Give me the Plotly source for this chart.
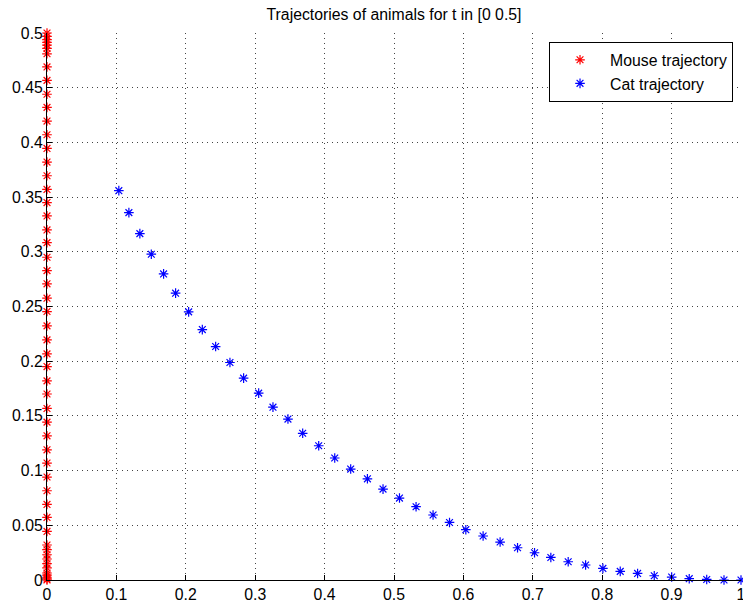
import plotly.graph_objects as go

# Mouse trajectory (x stays at 0)
mouse_y = [0.5, 0.497, 0.494, 0.4915, 0.489, 0.486, 0.481, 0.469, 0.4567, 0.444,
           0.432, 0.4195, 0.407, 0.3945, 0.382, 0.3695, 0.357, 0.345, 0.3328, 0.32,
           0.3084, 0.295, 0.2828, 0.2707, 0.2576, 0.2454, 0.2323, 0.2195, 0.2067,
           0.1951, 0.182, 0.17, 0.1568, 0.1443, 0.1318, 0.119, 0.1069, 0.0941,
           0.0816, 0.0691, 0.0572, 0.0444, 0.032, 0.0277, 0.0231, 0.0192, 0.0149,
           0.011, 0.0064, 0.0045, 0.0025, 0.001, 0.0]
mouse_x = [0.0] * len(mouse_y)

# Cat trajectory
cat_x = [0.1035, 0.1180, 0.1338, 0.1503, 0.1680, 0.1853, 0.2041, 0.2238, 0.2430,
         0.2636, 0.2833, 0.3050, 0.3256, 0.3472, 0.3684, 0.3915, 0.4146, 0.4376,
         0.4617, 0.4842, 0.5079, 0.5318, 0.5563, 0.5800, 0.6035, 0.6284, 0.6529,
         0.6780, 0.7025, 0.7260, 0.7510, 0.7761, 0.8010, 0.8260, 0.8510, 0.8750,
         0.9001, 0.9254, 0.9506, 0.9755, 1.0]
cat_y = [0.3559, 0.3358, 0.3166, 0.2978, 0.2798, 0.2622, 0.2451, 0.2289, 0.2134,
         0.1988, 0.1845, 0.1708, 0.1580, 0.1471, 0.1341, 0.1227, 0.1115, 0.1014,
         0.0925, 0.0831, 0.0749, 0.0670, 0.0594, 0.0526, 0.0460, 0.0402, 0.0347,
         0.0295, 0.0249, 0.0206, 0.0167, 0.0137, 0.0106, 0.0079, 0.0060, 0.0039,
         0.0027, 0.0012, 0.0005, 0.0, 0.0]

x_ticks = [0, 0.1, 0.2, 0.3, 0.4, 0.5, 0.6, 0.7, 0.8, 0.9, 1]
x_labels = ["0", "0.1", "0.2", "0.3", "0.4", "0.5", "0.6", "0.7", "0.8", "0.9", "1"]
y_ticks = [0, 0.05, 0.1, 0.15, 0.2, 0.25, 0.3, 0.35, 0.4, 0.45, 0.5]
y_labels = ["0", "0.05", "0.1", "0.15", "0.2", "0.25", "0.3", "0.35", "0.4", "0.45", "0.5"]

font = "Liberation Sans, Arial, sans-serif"
fsize = 15.8

fig = go.Figure()
fig.add_trace(go.Scatter(
    x=mouse_x, y=mouse_y, mode="markers", name="Mouse trajectory",
    marker=dict(symbol="asterisk-open", size=8, color="#ff0000",
                line=dict(color="#ff0000", width=1.2)),
    cliponaxis=False))
fig.add_trace(go.Scatter(
    x=cat_x, y=cat_y, mode="markers", name="Cat trajectory",
    marker=dict(symbol="asterisk-open", size=8, color="#0000ff",
                line=dict(color="#0000ff", width=1.2)),
    cliponaxis=False))

axis_common = dict(
    showline=True, linecolor="black", linewidth=1, mirror=False,
    ticks="inside", ticklen=5, tickcolor="black", tickwidth=1,
    showgrid=True, gridcolor="#444444", gridwidth=1, griddash="1px,4px",
    zeroline=False, tickfont=dict(family=font, size=fsize, color="black"),
    ticklabeloverflow="allow", automargin=False,
)

fig.update_xaxes(range=[0, 1], tickvals=x_ticks, ticktext=x_labels, **axis_common)
fig.update_yaxes(range=[0, 0.5], tickvals=y_ticks, ticktext=y_labels, **axis_common)

fig.update_layout(
    width=743, height=604,
    margin=dict(l=47, r=2, t=33, b=24),
    paper_bgcolor="white", plot_bgcolor="white",
    title=dict(text="Trajectories of animals for t in [0 0.5]",
               x=0.5, xref="paper", xanchor="center",
               y=1, yref="container", yanchor="top", pad=dict(t=9),
               font=dict(family=font, size=fsize, color="black")),
    legend=dict(x=0.9885, y=0.9835, xanchor="right", yanchor="top",
                bordercolor="black", borderwidth=1, bgcolor="white",
                font=dict(family=font, size=fsize, color="black"),
                itemwidth=50, tracegroupgap=0),
    showlegend=True,
)

# remove the default 8px page margin so the figure fills the window exactly
fig.write_html("out.html",
               config={"displayModeBar": False},
               post_script="document.body.style.margin='0px';"
                           "document.body.style.overflow='hidden';")
